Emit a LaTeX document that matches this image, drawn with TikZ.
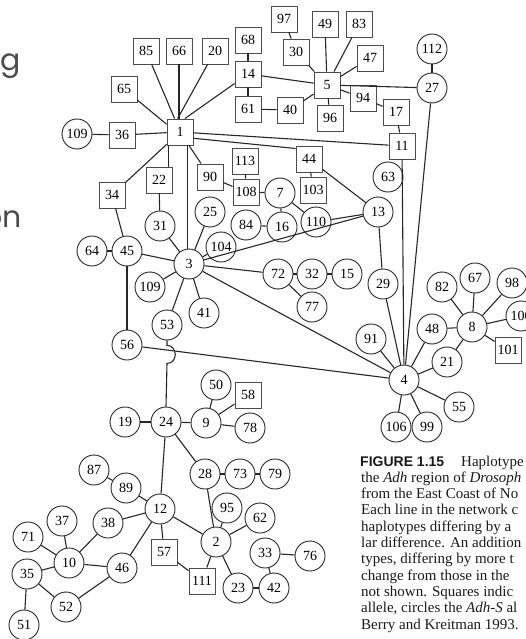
\documentclass[tikz,border=0pt]{standalone}
\usepackage{fontspec}
\setmainfont{Liberation Serif}
\newfontfamily\popfont{Poppins}
\newfontfamily\capsans{Liberation Sans}
\begin{document}
\begin{tikzpicture}[x=1pt,y=-1pt,
  lk/.style={draw=black!85, line width=1.1pt},
  sq/.style={draw=black!70, line width=0.9pt, fill=white, minimum width=26pt, minimum height=26pt, inner sep=0pt, font=\fontsize{14}{14}\selectfont},
  cr/.style={draw=black!85, line width=0.9pt, circle, fill=white, minimum size=30pt, inner sep=0pt, font=\fontsize{14}{14}\selectfont},
  captxt/.style={anchor=base west, inner sep=0pt, font=\fontsize{15}{15}\selectfont, text=black!90},
  sidetxt/.style={anchor=base east, inner sep=0pt, font=\popfont\fontsize{30}{30}\selectfont, text=black!70}]
\useasboundingbox (0,0) rectangle (526,639);
\clip (0,0) rectangle (526,639);
% squares
\foreach \n/\x/\y in {85/146/51,66/179/51,20/215/51,68/248/40,14/248/74,61/248/109,40/290/110,97/284/19,30/296/52,49/325/24,83/359/24,47/370/58,5/327/85,96/330/118,94/363/98,17/396/112,11/402/146,65/124/89,36/122/135,1/180/132,22/159/180,34/112/195,90/210/177,113/245/161,108/246/192,44/309/159,103/313/190,101/508/350,58/248/395,57/164/552,111/202/581}
  \node[sq] (n\n) at (\x,\y) {\n};
% circles
\node[cr] (n109a) at (77,134) {109};
\node[cr] (n109b) at (150,287) {109};
\foreach \n/\x/\y in {112/432/49,27/432/88,63/388/177,7/280/193,16/282/227,84/246/225,110/316/222,13/378/212,25/210/212,104/221/247,3/189/264,31/160/226,45/127/251,64/92/251,53/167/325,56/127/345,41/204/313,72/278/274,32/312/274,15/347/274,77/312/307,29/383/284,91/371/339,4/404/380,48/432/329,21/447/362,8/472/327,82/442/287,67/475/278,98/512/283,100/521/316,55/459/407,106/396/427,99/427/427,19/125/422,24/166/422,9/206/423,50/216/385,78/250/428,28/205/474,73/240/474,79/275/474,87/94/470,89/126/488,12/160/509,38/108/523,37/62/521,71/28/537,10/69/563,35/27/574,46/122/568,52/66/607,51/24/625,95/227/508,62/260/518,2/216/542,33/265/553,76/310/556,23/238/588,42/274/588}
  \node[cr] (n\n) at (\x,\y) {\n};
% edges around 1
\draw[lk] (n85) -- (n1.112);
\draw[lk] (n66) -- (n66 |- n1.north);
\draw[lk] (n20) -- (n1.100);
\draw[lk] (n14) -- (n1.70);
\draw[lk] (n65) -- (n1.150);
\draw[lk] (n36) -- (n1);
\draw[lk] (n36) -- (n109a);
\draw[lk] (n34) -- (n1);
\draw[lk] ([xshift=1.5pt]n1.south west) -- ([xshift=1.5pt]n1.south west |- n22.north);
\draw[lk] (n1) -- (n90);
\draw[lk] ([xshift=-6pt]n1.south east) -- ([xshift=-6pt]n1.south east |- n3.north);
\draw[lk] (n1) -- (n11);
\draw[lk] (n1.-25) -- (n44.142);
% top cluster
\foreach \a/\b in {14/68,14/61,14/5,61/40,40/5,97/30,30/5,49/5,83/5,47/5,96/5,94/5,5/27,94/17,17/11,112/27,27/4,11/4,44/103,44/13,108/113,108/90,108/7,7/16,7/110,16/84,110/13,13/29,13/3,29/4}
  \draw[lk] (n\a) -- (n\b);
% around 3
\foreach \a/\b in {3/31,3/45,3/109b,3/53,3/41,3/25,3/104,3/72,3/4,31/22,45/34,45/64,45/56,56/4,72/32,32/15,72/77}
  \draw[lk] (n\a) -- (n\b);
% around 4 and 8
\foreach \a/\b in {4/91,4/48,4/21,4/106,4/99,4/55,8/48,8/21,8/82,8/67,8/98,8/100,8/101}
  \draw[lk] (n\a) -- (n\b);
% 53 to 24 with a hop over the 56--4 line
\draw[lk] (n53.south) -- ++(0,5) .. controls +(11,0) and +(11,0) .. ++(0,18) -- (n24.north);
% lower part
\foreach \a/\b in {24/19,24/9,24/28,24/12,9/50,9/58,9/78,28/73,73/79,28/2,12/89,12/38,12/46,12/57,12/2,89/87,10/37,10/71,10/35,10/38,10/46,35/52,35/51,52/46,57/111,111/2,2/95,2/62,2/23,23/42,42/33,33/76}
  \draw[lk] (n\a) -- (n\b);
% page text on the left
\node[sidetxt] (tg) at (21,71) {g};
\node[sidetxt] (ton) at (22,227) {on};
% caption
\node[anchor=base west, inner sep=0pt, font=\capsans\bfseries\fontsize{14}{14}\selectfont, text=black!90] (c0) at (360,466) {FIGURE 1.15};
\node[captxt] (c1) at (461,466) {Haplotype};
\node[captxt] (c2) at (361,482.3) {the \textit{Adh} region of \textit{Drosoph}};
\node[captxt] (c3) at (361,498.6) {from the East Coast of No};
\node[captxt] (c4) at (361,514.9) {Each line in the network c};
\node[captxt] (c5) at (361,531.2) {haplotypes differing by a};
\node[captxt] (c6) at (361,547.5) {lar difference. An addition};
\node[captxt] (c7) at (361,563.8) {types, differing by more t};
\node[captxt] (c8) at (361,580.1) {change from those in the};
\node[captxt] (c9) at (361,596.4) {not shown. Squares indic};
\node[captxt] (c10) at (361,612.7) {allele, circles the \textit{Adh-S} al};
\node[captxt] (c11) at (361,629) {Berry and Kreitman 1993.};
\end{tikzpicture}
\end{document}
